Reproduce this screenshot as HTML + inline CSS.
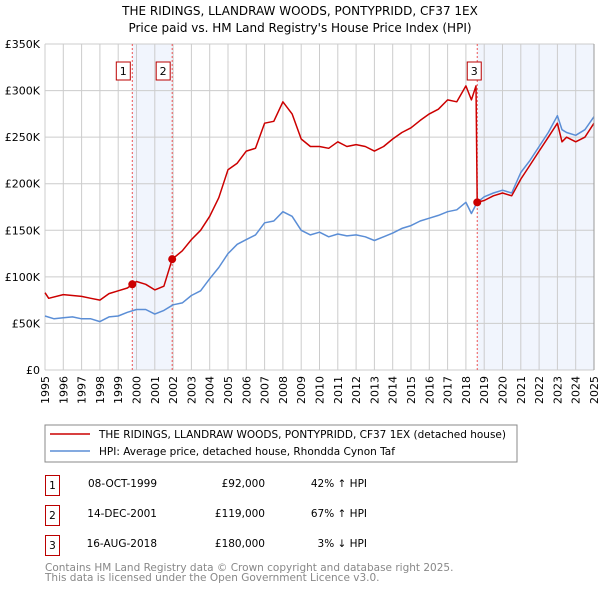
<!DOCTYPE html>
<html><head><meta charset="utf-8"><style>
body{margin:0;background:#fff;font-family:"DejaVu Sans","Liberation Sans",sans-serif;}
svg{display:block}
</style></head><body>
<svg id="chart" width="600" height="590" xmlns="http://www.w3.org/2000/svg" font-family="DejaVu Sans, Liberation Sans, sans-serif">
<text x="300" y="15" text-anchor="middle" font-size="12">THE RIDINGS, LLANDRAW WOODS, PONTYPRIDD, CF37 1EX</text>
<text x="300" y="32" text-anchor="middle" font-size="12">Price paid vs. HM Land Registry's House Price Index (HPI)</text>
<g id="plot"></g>
<rect x="45" y="425" width="472" height="37" fill="#fff" stroke="#888"/>
<line x1="50" y1="434" x2="90" y2="434" stroke="#cc0000" stroke-width="1.5"/>
<text x="99" y="438" font-size="10.5">THE RIDINGS, LLANDRAW WOODS, PONTYPRIDD, CF37 1EX (detached house)</text>
<line x1="50" y1="451" x2="90" y2="451" stroke="#5b8ed6" stroke-width="1.5"/>
<text x="99" y="455" font-size="10.5">HPI: Average price, detached house, Rhondda Cynon Taf</text>
<g font-size="10.5">
<rect x="45.5" y="475.5" width="14" height="20" fill="#fff" stroke="#b00"/>
<text x="52.5" y="489" text-anchor="middle">1</text>
<text x="157" y="487" text-anchor="end">08-OCT-1999</text>
<text x="265" y="487" text-anchor="end">£92,000</text>
<text x="367" y="487" text-anchor="end">42% ↑ HPI</text>
<rect x="45.5" y="505.5" width="14" height="20" fill="#fff" stroke="#b00"/>
<text x="52.5" y="519" text-anchor="middle">2</text>
<text x="157" y="517" text-anchor="end">14-DEC-2001</text>
<text x="265" y="517" text-anchor="end">£119,000</text>
<text x="367" y="517" text-anchor="end">67% ↑ HPI</text>
<rect x="45.5" y="535.5" width="14" height="20" fill="#fff" stroke="#b00"/>
<text x="52.5" y="549" text-anchor="middle">3</text>
<text x="157" y="547" text-anchor="end">16-AUG-2018</text>
<text x="265" y="547" text-anchor="end">£180,000</text>
<text x="367" y="547" text-anchor="end">3% ↓ HPI</text>
</g>
<text x="45" y="571" font-size="10.5" fill="#888">Contains HM Land Registry data © Crown copyright and database right 2025.</text>
<text x="45" y="581" font-size="10.5" fill="#888">This data is licensed under the Open Government Licence v3.0.</text>
</svg>
<script>
const yTicks=[0,50,100,150,200,250,300,350];
const yTickLabels=["£0","£50K","£100K","£150K","£200K","£250K","£300K","£350K"];
const xYears=[1995,1996,1997,1998,1999,2000,2001,2002,2003,2004,2005,2006,2007,2008,2009,2010,2011,2012,2013,2014,2015,2016,2017,2018,2019,2020,2021,2022,2023,2024,2025];
const hpiT=[1995,1995.5,1996,1996.5,1997,1997.5,1998,1998.5,1999,1999.5,2000,2000.5,2001,2001.5,2002,2002.5,2003,2003.5,2004,2004.5,2005,2005.5,2006,2006.5,2007,2007.5,2008,2008.5,2009,2009.5,2010,2010.5,2011,2011.5,2012,2012.5,2013,2013.5,2014,2014.5,2015,2015.5,2016,2016.5,2017,2017.5,2018,2018.3,2018.62,2019,2019.5,2020,2020.5,2021,2021.5,2022,2022.5,2023,2023.25,2023.5,2024,2024.5,2025];
const hpiV=[58,55,56,57,55,55,52,57,58,62,65,65,60,64,70,72,80,85,98,110,125,135,140,145,158,160,170,165,150,145,148,143,146,144,145,143,139,143,147,152,155,160,163,166,170,172,180,168,180,186,190,193,190,212,225,240,255,273,258,255,252,258,272];
const redT=[1995,1995.2,1996,1996.5,1997,1997.5,1998,1998.5,1999,1999.5,1999.77,2000,2000.5,2001,2001.5,2001.95,2002.5,2003,2003.5,2004,2004.5,2005,2005.5,2006,2006.5,2007,2007.5,2008,2008.5,2009,2009.5,2010,2010.5,2011,2011.5,2012,2012.5,2013,2013.5,2014,2014.5,2015,2015.5,2016,2016.5,2017,2017.5,2018,2018.3,2018.55,2018.62,2019,2019.5,2020,2020.5,2021,2021.5,2022,2022.5,2023,2023.25,2023.5,2024,2024.5,2025];
const redV=[83,77,81,80,79,77,75,82,85,88,92,95,92,86,90,119,128,140,150,165,185,215,222,235,238,265,267,288,275,248,240,240,238,245,240,242,240,235,240,248,255,260,268,275,280,290,288,305,290,305,180,182,187,190,187,205,220,235,250,265,245,250,245,250,265];
const saleT=[1999.77,2001.95,2018.62];
const saleV=[92,119,180];
const saleLabels=["1","2","3"];

const X=t=>45+(t-1995)*18.3;
const Y=v=>370-v*0.9314;
const NS="http://www.w3.org/2000/svg";
const g=document.getElementById('plot');
function mk(tag,attrs){const e=document.createElementNS(NS,tag);for(const k in attrs)e.setAttribute(k,attrs[k]);g.appendChild(e);return e;}
let r=mk('rect',{x:X(saleT[0]),y:Y(350),width:X(saleT[1])-X(saleT[0]),height:Y(0)-Y(350),fill:'#eef3fc',opacity:0.8});


r=mk('rect',{x:X(saleT[2]),y:Y(350),width:X(2025)-X(saleT[2]),height:Y(0)-Y(350),fill:'#eef3fc',opacity:0.8});


xYears.forEach(yr=>{
  const l=mk('line',{x1:X(yr),x2:X(yr),y1:Y(350),y2:Y(0),stroke:'#ccc','stroke-width':1});
  
  
  const x=X(yr)+4, y=376;
  const t=mk('text',{x:x,y:y,'text-anchor':'end','font-size':11,transform:'rotate(-90 '+x+' '+y+')'});
  
  
  t.textContent=yr;
});
yTicks.forEach((v,i)=>{
  const l=mk('line',{x1:45,x2:X(2025),y1:Y(v),y2:Y(v),stroke:'#ccc','stroke-width':1});
  
  
  const t=mk('text',{x:40,y:Y(v)+4,'text-anchor':'end','font-size':11});
  
  
  t.textContent=yTickLabels[i];
});
saleT.forEach((t,i)=>{
  const l=mk('line',{x1:X(t),x2:X(t),y1:Y(350),y2:Y(0),stroke:'#e55','stroke-width':1,'stroke-dasharray':'2,2'});
  
  
});
function path(T,V,color,name){
  const d=T.map((t,i)=>(i?'L':'M')+X(t).toFixed(1)+','+Y(V[i]).toFixed(1)).join('');
  const p=mk('path',{d:d,fill:'none',stroke:color,'stroke-width':1.5,'stroke-linejoin':'round'});
  
  
}
path(hpiT,hpiV,'#5b8ed6','hpi-line');
path(redT,redV,'#cc0000','property-price-line');
saleT.forEach((t,i)=>{
  const c=mk('circle',{cx:X(t),cy:Y(saleV[i]),r:4,fill:'#cc0000'});
  
  
  const bx=X(t)-(i==2?3:9);
  const b=mk('rect',{x:bx-7,y:62,width:14,height:18,fill:'#fff',stroke:'#b00'});
  
  
  const tx=mk('text',{x:bx,y:75,'text-anchor':'middle','font-size':11});
  
  
  tx.textContent=saleLabels[i];
});
const ax=mk('line',{x1:X(2025),x2:X(2025),y1:Y(350),y2:Y(0),stroke:'#999','stroke-width':1});


</script>
</body></html>
